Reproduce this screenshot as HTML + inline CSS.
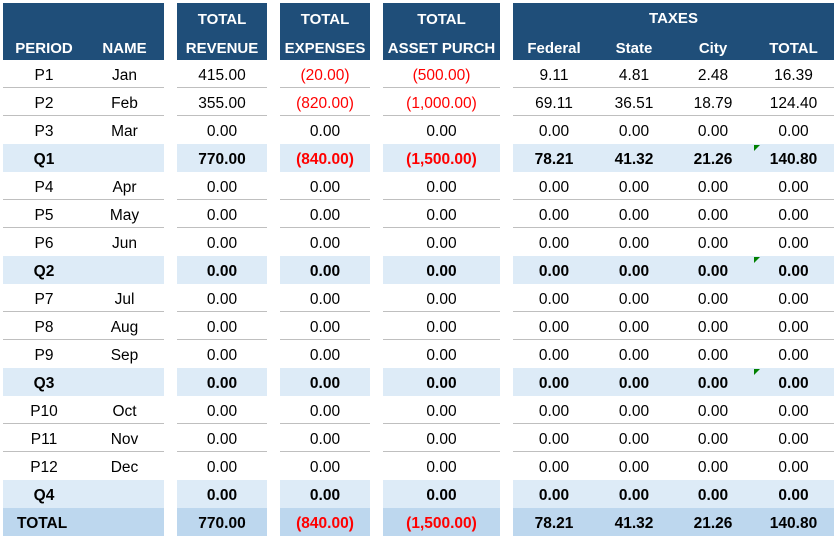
<!DOCTYPE html>
<html><head><meta charset="utf-8"><style>
body{margin:0;width:838px;height:541px;background:#fff;position:relative;overflow:hidden;font-family:"Liberation Sans",sans-serif;}
.c{position:absolute;box-sizing:border-box;font-size:15.5px;line-height:28px;text-align:center;white-space:nowrap;color:#000;padding-top:2px;}
.h{background:#1F4E79;color:#fff;font-weight:bold;font-size:15px;position:absolute;}
.neg{color:#f00;}
.b{font-weight:bold;}
</style></head><body>
<div class="h" style="left:3px;top:3px;width:161px;height:57px"></div>
<div class="h" style="left:177px;top:3px;width:90px;height:57px;text-align:center;line-height:29px;padding-top:2px;box-sizing:border-box">TOTAL<br>REVENUE</div>
<div class="h" style="left:280px;top:3px;width:90px;height:57px;text-align:center;line-height:29px;padding-top:2px;box-sizing:border-box">TOTAL<br>EXPENSES</div>
<div class="h" style="left:383px;top:3px;width:117px;height:57px;text-align:center;line-height:29px;padding-top:2px;box-sizing:border-box">TOTAL<br>ASSET PURCH</div>
<div class="h" style="left:513px;top:3px;width:321px;height:57px"></div>
<div class="h" style="left:3px;top:40px;width:82px;text-align:center;background:none">PERIOD</div>
<div class="h" style="left:85px;top:40px;width:79px;text-align:center;background:none">NAME</div>
<div class="h" style="left:513px;top:10px;width:321px;text-align:center;background:none">TAXES</div>
<div class="h" style="left:513px;top:40px;width:82px;text-align:center;background:none">Federal</div>
<div class="h" style="left:595px;top:40px;width:78px;text-align:center;background:none">State</div>
<div class="h" style="left:673px;top:40px;width:80px;text-align:center;background:none">City</div>
<div class="h" style="left:753px;top:40px;width:81px;text-align:center;background:none">TOTAL</div>
<div id="t"></div>
<script>
const periods=["P1","P2","P3","Q1","P4","P5","P6","Q2","P7","P8","P9","Q3","P10","P11","P12","Q4","TOTAL"];
const names=["Jan","Feb","Mar","","Apr","May","Jun","","Jul","Aug","Sep","","Oct","Nov","Dec","",""];
const revenue=[415,355,0,770,0,0,0,0,0,0,0,0,0,0,0,0,770];
const expenses=[-20,-820,0,-840,0,0,0,0,0,0,0,0,0,0,0,0,-840];
const assets=[-500,-1000,0,-1500,0,0,0,0,0,0,0,0,0,0,0,0,-1500];
const federal=[9.11,69.11,0,78.21,0,0,0,0,0,0,0,0,0,0,0,0,78.21];
const state=[4.81,36.51,0,41.32,0,0,0,0,0,0,0,0,0,0,0,0,41.32];
const city=[2.48,18.79,0,21.26,0,0,0,0,0,0,0,0,0,0,0,0,21.26];
const taxTotal=[16.39,124.4,0,140.8,0,0,0,0,0,0,0,0,0,0,0,0,140.8];
function fmt(v){const s=Math.abs(v).toLocaleString('en-US',{minimumFractionDigits:2,maximumFractionDigits:2});return v<0?'('+s+')':s;}
const blocks=[[3,164],[177,267],[280,370],[383,500],[513,834]];
const cols=[[3,82,'p'],[85,79,'n'],[177,90,revenue],[280,90,expenses],[383,117,assets],[513,82,federal],[595,78,state],[673,80,city],[753,81,taxTotal]];
const T=document.getElementById('t');
periods.forEach((p,i)=>{
 const y=60+i*28;const isQ=p[0]==='Q';const isT=p==='TOTAL';const next=periods[i+1]||'';
 blocks.forEach(b=>{
  const r=document.createElement('div');
  
  
  r.style.cssText='position:absolute;left:'+b[0]+'px;top:'+y+'px;width:'+(b[1]-b[0])+'px;height:28px;box-sizing:border-box;'+(isT?'background:#BDD7EE;':isQ?'background:#DDEBF7;':'')+((!isQ&&!isT&&next[0]!=='Q')?'border-bottom:1px solid #bfbfbf;':'');
  T.appendChild(r);
 });
 cols.forEach((c,j)=>{
  const d=document.createElement('div');
  
  
  d.className='c'+((isQ||isT)?' b':'');
  let txt,l=c[0],w=c[1];
  if(c[2]==='p'){txt=p;if(isT){d.style.textAlign='left';l=17;}}
  else if(c[2]==='n')txt=names[i];
  else{const v=c[2][i];txt=fmt(v);if(v<0)d.classList.add('neg');}
  d.style.left=l+'px';d.style.top=y+'px';d.style.width=w+'px';
  d.textContent=txt;T.appendChild(d);
 });
 if(i===3||i===7||i===11){
  const f=document.createElement('div');
  
  
  f.style.cssText='position:absolute;left:754px;top:'+(y+1)+'px;width:0;height:0;border-top:6px solid #008000;border-right:6px solid transparent;';
  T.appendChild(f);
 }
});
</script>
</body></html>
